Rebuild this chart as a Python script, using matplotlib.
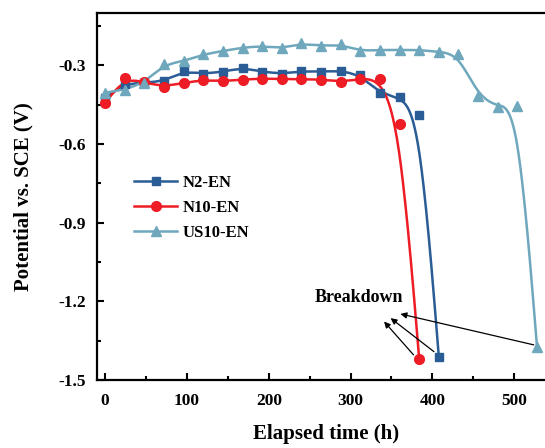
"""Open-circuit potential vs. elapsed time for three coatings."""

import matplotlib
matplotlib.use("Agg")
import matplotlib.pyplot as plt
import numpy as np

plt.rcParams["font.family"] = ["Liberation Serif", "DejaVu Serif"]
plt.rcParams["font.weight"] = "bold"
plt.rcParams["axes.unicode_minus"] = False

# elapsed time (h) and potential (V vs. SCE)
time_n2 = [0, 24, 48, 72, 96, 120, 144, 168, 192, 216, 240, 264, 288, 312,
           336, 360, 384, 408]
pot_n2 = [-0.425, -0.37, -0.366, -0.36, -0.322, -0.332, -0.324, -0.309,
          -0.324, -0.332, -0.322, -0.324, -0.320, -0.337, -0.407, -0.421,
          -0.490, -1.413]

time_n10 = [0, 24, 48, 72, 96, 120, 144, 168, 192, 216, 240, 264, 288, 312,
            336, 360, 384]
pot_n10 = [-0.443, -0.347, -0.365, -0.381, -0.366, -0.356, -0.360, -0.354,
           -0.350, -0.352, -0.352, -0.354, -0.362, -0.352, -0.350, -0.525,
           -1.421]

time_us10 = [0, 24, 48, 72, 96, 120, 144, 168, 192, 216, 240, 264, 288, 312,
             336, 360, 384, 408, 432, 456, 480, 504, 528]
pot_us10 = [-0.404, -0.392, -0.366, -0.296, -0.284, -0.258, -0.245, -0.232,
            -0.226, -0.235, -0.216, -0.226, -0.220, -0.245, -0.241, -0.241,
            -0.241, -0.248, -0.258, -0.417, -0.458, -0.455, -1.373]

labels = ["N2-EN", "N10-EN", "US10-EN"]
colors = ["#2a5d95", "#ee1c25", "#6fa8bd"]
markers = ["s", "o", "^"]
msizes = [5.5, 7, 7]


def bspline(x, y, n=30):
    """Clamped uniform cubic B-spline through the data as control points."""
    p = np.column_stack([x, y]).astype(float)
    p = np.vstack([p[:1], p[:1], p, p[-1:], p[-1:]])
    t = np.linspace(0, 1, n, endpoint=False)
    b = np.column_stack([(1 - t) ** 3,
                         3 * t ** 3 - 6 * t ** 2 + 4,
                         -3 * t ** 3 + 3 * t ** 2 + 3 * t + 1,
                         t ** 3]) / 6.0
    segs = [b @ p[i:i + 4] for i in range(len(p) - 3)]
    out = np.vstack(segs + [p[-1:]])
    return out[:, 0], out[:, 1]


fig = plt.figure(figsize=(5.45, 4.48), dpi=100)
ax = fig.add_axes([97 / 545, 68 / 448, 458 / 545, 367 / 448])

series = [(time_n2, pot_n2), (time_n10, pot_n10), (time_us10, pot_us10)]
for (t, v), lab, c, m, ms in zip(series, labels, colors, markers, msizes):
    sx, sy = bspline(t, v)
    ax.plot(sx, sy, color=c, lw=1.8, zorder=2)
    ax.plot(t, v, ls="none", marker=m, ms=ms, color=c, zorder=3)
    ax.plot([], [], color=c, lw=1.8, marker=m, ms=ms, label=lab)

ax.set_xlim(-10, 550)
ax.set_ylim(-1.5, -0.1)
ax.set_xticks([0, 100, 200, 300, 400, 500])
ax.set_xticks(np.arange(50, 550, 100), minor=True)
ax.set_yticks([-1.5, -1.2, -0.9, -0.6, -0.3])
ax.set_yticks([-1.35, -1.05, -0.75, -0.45, -0.15], minor=True)
ax.tick_params(which="both", direction="in", width=1.5, labelsize=12.5)
ax.tick_params(axis="x", pad=9)
ax.tick_params(axis="y", pad=8)
ax.tick_params(which="major", length=5)
ax.tick_params(which="minor", length=3)
for s in ax.spines.values():
    s.set_linewidth(1.6)

ax.set_xlabel("Elapsed time (h)", fontsize=15, fontweight="bold",
              labelpad=11)
ax.set_ylabel("Potential vs. SCE (V)", fontsize=15, fontweight="bold",
              labelpad=18)

ax.legend(loc="upper left", bbox_to_anchor=(134 / 545, 1 - 175 / 448),
          bbox_transform=fig.transFigure, frameon=False, fontsize=12,
          handlelength=2.6, handletextpad=0.3, labelspacing=0.55,
          borderpad=0, borderaxespad=0)

ax.text(310, -1.186, "Breakdown", fontsize=13, fontweight="bold",
        ha="center", va="center")
arrow = dict(arrowstyle="-|>", lw=0.9, color="black", mutation_scale=9,
             shrinkA=0, shrinkB=0)
ax.annotate("", xy=(361, -1.248), xytext=(524, -1.366), arrowprops=arrow)
ax.annotate("", xy=(349, -1.264), xytext=(402, -1.392), arrowprops=arrow)
ax.annotate("", xy=(341, -1.277), xytext=(377, -1.404), arrowprops=arrow)

fig.savefig("out.png", dpi=100)
